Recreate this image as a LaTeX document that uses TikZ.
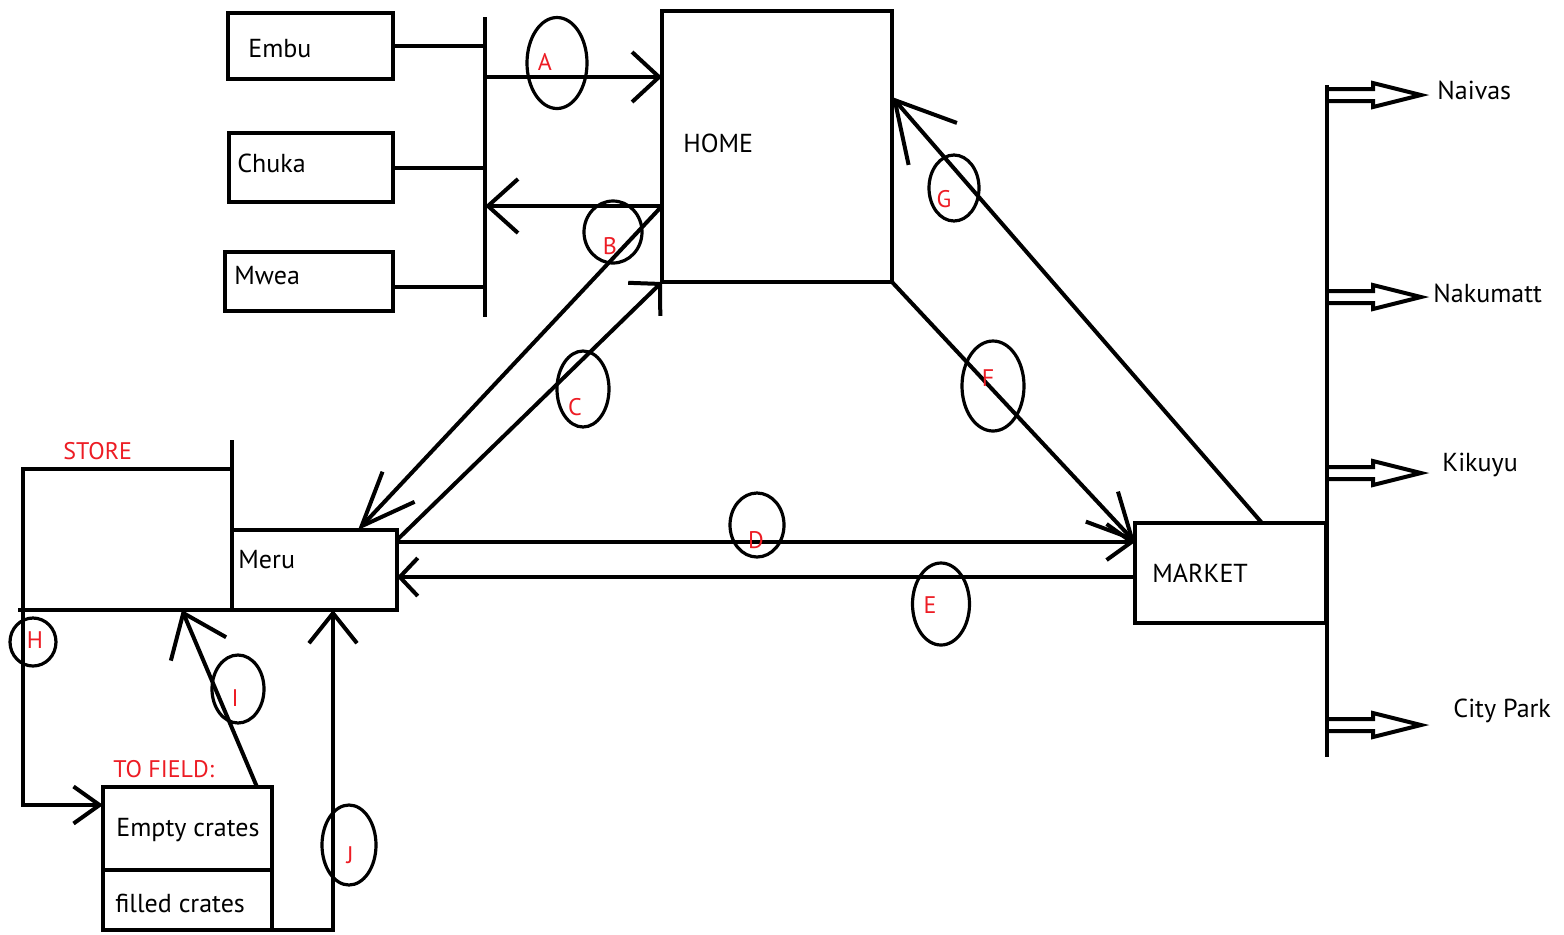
\documentclass[tikz,border=0pt]{standalone}
\usepackage{fontspec}
\setmainfont{PT Sans}
\usetikzlibrary{arrows.meta, positioning, shapes.geometric}
\definecolor{paintred}{RGB}{237,28,36}

\begin{document}
\begin{tikzpicture}[x=0.5pt, y=-0.5pt,
  wire/.style={line width=2pt},
  box/.style={draw, wire, rectangle, inner sep=0pt, outer sep=0pt},
  txt/.style={font=\fontsize{13}{15}\selectfont, inner sep=0pt},
  tag/.style={text=paintred, font=\fontsize{12}{14}\selectfont, inner sep=0pt},
  ring/.style={draw, ellipse, line width=1.6pt, inner sep=0pt},
  arr/.style 2 args={wire, -{Straight Barb[length=#1, width=#2]}},
  pics/shoparrow/.style={code={
    \draw[wire, line join=miter] (0,-6) -- (46,-6) -- (46,-12) -- (94,0) -- (46,12) -- (46,6) -- (0,6);
  }},
]
  \fill[white] (0,0) rectangle (1564,934);
  \useasboundingbox (0,0) rectangle (1564,934);

  % towns
  \node[box, minimum width=82.5pt, minimum height=33pt] (embu) at (310.5,46) {};
  \node[txt, right=10pt of embu.west, yshift=-1.5pt] (embutxt) {Embu};
  \node[box, minimum width=82pt, minimum height=34.5pt] (chuka) at (311,167.5) {};
  \node[txt, right=4pt of chuka.west, yshift=2pt] (chukatxt) {Chuka};
  \node[box, minimum width=84pt, minimum height=29.5pt] (mwea) at (309,281.5) {};
  \node[txt, right=4.5pt of mwea.west, yshift=3pt] (mweatxt) {Mwea};

  % main places
  \node[box, minimum width=115pt, minimum height=135.5pt] (home) at (777,146.5) {};
  \node[txt, right=10.5pt of home.west, yshift=1.5pt] (hometxt) {HOME};
  \node[box, minimum width=104.5pt, minimum height=70.5pt] (store) at (127.5,539.5) {};
  \node[tag, above right=4.5pt and 20pt of store.north west] (storelbl) {STORE};
  \node[box, minimum width=82.5pt, minimum height=40pt] (meru) at (314.5,570) {};
  \node[txt, right=3pt of meru.west, yshift=5pt] (merutxt) {Meru};
  \node[box, minimum width=95.5pt, minimum height=50pt] (market) at (1230.5,573) {};
  \node[txt, right=8.5pt of market.west] (markettxt) {MARKET};

  % crates
  \node[box, minimum width=84.5pt, minimum height=41.5pt] (empty) at (187.5,828.5) {};
  \node[txt, right=6.5pt of empty.west, yshift=-1pt] (emptytxt) {Empty crates};
  \node[box, minimum width=84.5pt, minimum height=30pt] (filled) at (187.5,900) {};
  \node[txt, right=6pt of filled.west, yshift=-1.5pt] (filledtxt) {filled crates};
  \node[tag, above right=4.5pt and 5pt of empty.north west] (fieldlbl) {TO FIELD:};

  % left bus
  \coordinate (lbustop) at (485,17);
  \coordinate (lbusbot) at (485,317);
  \draw[wire] (lbustop) -- (lbusbot);
  \draw[wire] (embu.east) -- (embu.east -| lbustop);
  \draw[wire] (chuka.east) -- (chuka.east -| lbustop);
  \draw[wire] ([yshift=-2.75pt]mwea.east) coordinate (mweaout) -- (mweaout -| lbustop);
  \draw[wire] (store.north east) -- ++(0,-29);
  \draw[wire] (store.south west) -- ++(-5,0);

  % routes
  \coordinate (homeA) at ([yshift=34.75pt]home.west);
  \coordinate (homeB) at ([yshift=-29.75pt]home.west);
  \draw[arr={13.5pt}{25pt}] (homeA -| lbustop) -- (homeA);
  \draw[arr={15pt}{27pt}] (homeB) -- (homeB -| lbustop);
  \draw[arr={27pt}{22pt}] (homeB) -- ([xshift=21.75pt]meru.north);
  \draw[arr={11pt}{23pt}] ([yshift=-5pt]meru.north east) -- (home.south west);
  \coordinate (meruD) at ([yshift=14pt]meru.east);
  \coordinate (marketE) at ([yshift=-2pt]market.west);
  \draw[arr={12.5pt}{18pt}] (meruD) -- (meruD -| market.west);
  \draw[arr={9pt}{19pt}] (marketE) -- (marketE -| meru.east);
  \draw[arr={22pt}{22pt}] (home.south east) -- ([yshift=-9.5pt]market.north west);
  \draw[arr={29pt}{32pt}] ([xshift=15.75pt]market.north) -- ([yshift=24.75pt]home.east);
  \draw[arr={13pt}{18.5pt}] (store.south west) |- ([yshift=11.75pt]empty.west);
  \draw[arr={19.5pt}{30pt}] ([xshift=34.75pt]empty.north) -- ([xshift=27.25pt]store.south);
  \draw[arr={15pt}{24pt}] (filled.south east) -| ([xshift=9.25pt]meru.south);

  % right bus and outlets
  \coordinate (rbustop) at (1327,85);
  \coordinate (rbusbot) at (1327,757);
  \draw[wire] (rbustop) -- (rbusbot);
  \node[txt, anchor=west] (naivas) at (1437,90) {Naivas};
  \node[txt, anchor=west] (nakumatt) at (1433,293) {Nakumatt};
  \node[txt, anchor=west] (kikuyu) at (1442,465) {Kikuyu};
  \node[txt, anchor=west] (citypark) at (1453,711) {City Park};
  \pic at ([yshift=-2.5pt]naivas.west -| rbustop) {shoparrow};
  \pic at ([yshift=-2pt]nakumatt.west -| rbustop) {shoparrow};
  \pic at ([yshift=-4pt]kikuyu.west -| rbustop) {shoparrow};
  \pic at ([yshift=-7pt]citypark.west -| rbustop) {shoparrow};

  % route marks
  \node[ring, minimum width=30pt, minimum height=45.5pt] (ovA) at (557,63) {};
  \node[tag] (lblA) at (545,62) {A};
  \node[ring, minimum width=29pt, minimum height=31pt] (ovB) at (613,232) {};
  \node[tag] (lblB) at (610,246) {B};
  \node[ring, minimum width=26pt, minimum height=38pt] (ovC) at (583,389) {};
  \node[tag] (lblC) at (575,407) {C};
  \node[ring, minimum width=27pt, minimum height=32pt] (ovD) at (757,525) {};
  \node[tag] (lblD) at (756,540) {D};
  \node[ring, minimum width=28.5pt, minimum height=41pt] (ovE) at (941,604) {};
  \node[tag] (lblE) at (930,605) {E};
  \node[ring, minimum width=31pt, minimum height=45pt] (ovF) at (993,386) {};
  \node[tag] (lblF) at (988,378) {F};
  \node[ring, minimum width=25pt, minimum height=33pt] (ovG) at (954,188) {};
  \node[tag] (lblG) at (944,199) {G};
  \node[ring, minimum width=23pt, minimum height=24pt] (ovH) at (33,642) {};
  \node[tag] (lblH) at (35,640) {H};
  \node[ring, minimum width=26pt, minimum height=34pt] (ovI) at (238,689) {};
  \node[tag] (lblI) at (235,698) {I};
  \node[ring, minimum width=27pt, minimum height=40pt] (ovJ) at (349,845) {};
  \node[tag] (lblJ) at (350,855) {J};
\end{tikzpicture}
\end{document}
